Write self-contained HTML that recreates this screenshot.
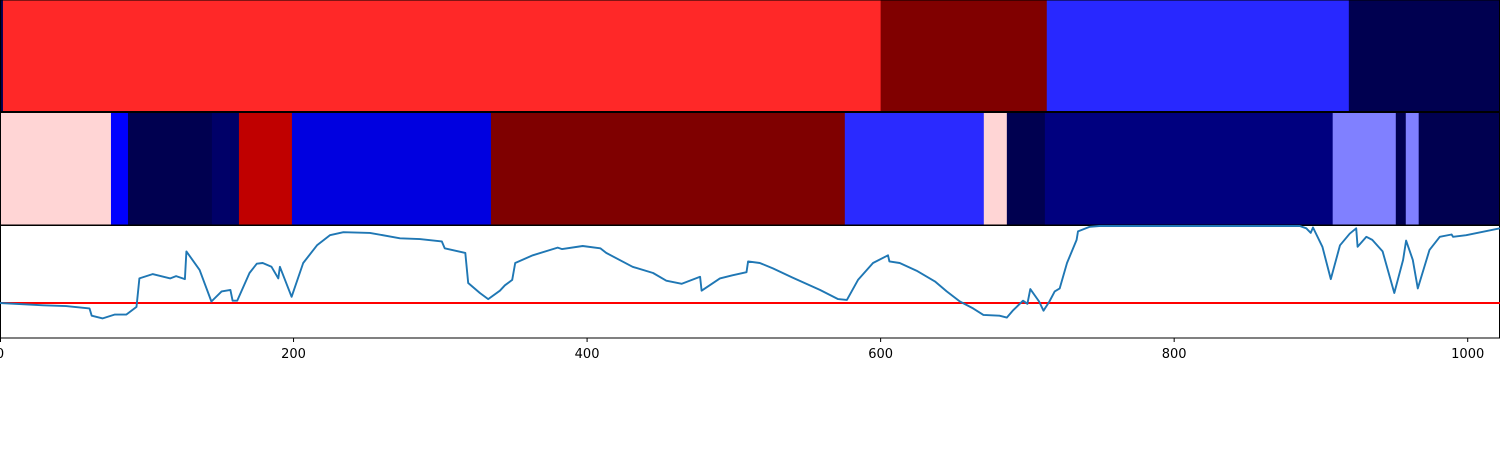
<!DOCTYPE html>
<html><head><meta charset="utf-8"><style>
html,body{margin:0;padding:0;background:#fff;}
svg{display:block;}
text{font-family:"DejaVu Sans","Liberation Sans",sans-serif;font-size:13px;fill:#000;}
</style></head><body>
<svg id="chart" width="1500" height="450" viewBox="0 0 1500 450" xmlns="http://www.w3.org/2000/svg">
<g id="top"></g>
<g id="mid"></g>
<g id="line"></g>
<g id="axis"></g>
</svg>
<script>
const xMax = 1022;
const topBounds = [0, 2, 600, 713.2, 919, 1022];
const topColors = ['#000050', '#ff2828', '#800000', '#2828ff', '#000050'];
const midBounds = [0, 75.6, 87.2, 144.4, 162.8, 198.9, 334.5, 575.6, 670.3, 686, 711.9, 908, 951, 957.8, 966.6, 1022];
const midColors = ['#ffd5d5', '#0000ff', '#000050', '#000068', '#c00000', '#0000e0', '#7f0000', '#2a2aff', '#ffd5d5', '#000050', '#00007f', '#8080ff', '#000050', '#8080ff', '#000050'];
const sigX = [0,29.5,45,61,62.5,70,78,86,93,95,104,116,120,126,127,136,144,151,157,158.5,161.6,170,175,179,185,189.6,190.7,198.7,206.6,216,224.8,234,252,272.5,286,301,303,317,319,327,332.6,340.6,344,349,351,363,380,383,397,409,413,431,445,454,464.5,477,478,490.5,499,508.6,509.7,517.7,526.6,540,558.6,571,577,584.6,594.8,605,606,613,624.5,637,645,654,663,670,681,686,690,697,700,702,708,711,715,718.6,722,727,733.5,734.5,742.5,749,885.6,890,893,894.6,901,906.7,913,919.6,924,925,931,935,942,950,956,958,962.6,966,974,981,989,990,999,1022];
const sigY = [0,-0.03,-0.04,-0.07,-0.165,-0.2,-0.15,-0.15,-0.05,0.32,0.375,0.32,0.35,0.31,0.67,0.43,0.02,0.15,0.17,0.03,0.03,0.39,0.51,0.52,0.47,0.32,0.47,0.08,0.52,0.75,0.88,0.92,0.91,0.84,0.83,0.8,0.71,0.65,0.26,0.13,0.05,0.16,0.23,0.30,0.52,0.62,0.72,0.70,0.74,0.71,0.65,0.47,0.39,0.29,0.25,0.34,0.16,0.32,0.36,0.40,0.54,0.52,0.45,0.33,0.17,0.05,0.04,0.30,0.52,0.62,0.54,0.52,0.42,0.28,0.15,0.02,-0.07,-0.155,-0.165,-0.19,-0.10,0.03,-0.01,0.18,0.02,-0.10,0.02,0.15,0.19,0.52,0.82,0.93,0.99,1.0,1.0,0.97,0.91,0.98,0.73,0.31,0.75,0.9,0.97,0.73,0.86,0.82,0.67,0.13,0.56,0.81,0.56,0.19,0.69,0.86,0.89,0.86,0.88,0.97];
const thresholdValue = 0;
const tickValues = [0, 200, 400, 600, 800, 1000];
const tickLabels = ['0', '200', '400', '600', '800', '1000'];

const NS = 'http://www.w3.org/2000/svg';
const W = 1500;
const xs = v => v / xMax * W;
const ys = v => 303 - v * 77;
function mk(tag, attrs, parent){const e=document.createElementNS(NS,tag);for(const k in attrs)e.setAttribute(k,attrs[k]);parent.appendChild(e);return e;}

function bars(g, bounds, colors, y0, h, nm){
  for(let i=0;i<colors.length;i++){
    const r = mk('rect',{x:xs(bounds[i]),y:y0,width:xs(bounds[i+1])-xs(bounds[i])+0.5,height:h,fill:colors[i]},g);
    
    
  }
  const f = mk('rect',{x:0.5,y:y0-0.5,width:W-1,height:h+0.5,fill:'none',stroke:'#000','stroke-width':1},g);
  
  
}
bars(document.getElementById('top'), topBounds, topColors, 0.5, 111, 'top');
bars(document.getElementById('mid'), midBounds, midColors, 113, 112, 'mid');

const lg = document.getElementById('line');
const frame = mk('rect',{x:0.5,y:225.5,width:W-1,height:112.5,fill:'none',stroke:'#000','stroke-width':1},lg);


const th = mk('line',{x1:0,x2:W,y1:ys(thresholdValue),y2:ys(thresholdValue),stroke:'#ff0000','stroke-width':2},lg);


let d='';
for(let i=0;i<sigX.length;i++) d += (i?'L':'M') + xs(sigX[i]).toFixed(1) + ',' + ys(sigY[i]).toFixed(1);
const p = mk('path',{d:d,fill:'none',stroke:'#1f77b4','stroke-width':1.9,'stroke-linejoin':'round'},lg);



const ag = document.getElementById('axis');
for(let i=0;i<tickValues.length;i++){
  const x = Math.max(0.5, xs(tickValues[i]));
  const t = mk('line',{x1:x,x2:x,y1:338,y2:342,stroke:'#000','stroke-width':1},ag);
  
  
  const l = mk('text',{x:xs(tickValues[i]),y:358,'text-anchor':'middle'},ag);
  l.textContent = tickLabels[i];
  
  
}
</script>
</body></html>
